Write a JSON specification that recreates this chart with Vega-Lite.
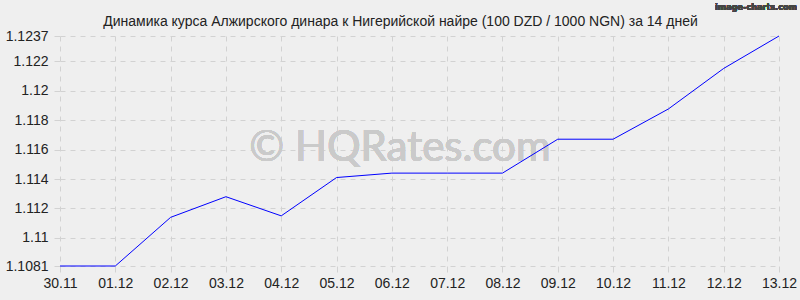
{
  "$schema": "https://vega.github.io/schema/vega-lite/v6.json",
  "width": 719,
  "height": 230,
  "autosize": {"type": "none"},
  "padding": {"left": 60, "top": 36, "right": 21, "bottom": 34},
  "background": "#efefef",
  "title": {
    "text": "Динамика курса Алжирского динара к Нигерийской найре (100 DZD / 1000 NGN) за 14 дней",
    "font": "Liberation Sans",
    "fontSize": 14,
    "fontWeight": "normal",
    "color": "#222222",
    "anchor": "middle",
    "frame": "group",
    "dx": -19,
    "dy": 35,
    "offset": 9
  },
  "config": {
    "view": {"stroke": null},
    "axis": {
      "labelFont": "Liberation Sans",
      "labelFontSize": 14,
      "labelColor": "#222222",
      "labelOverlap": false,
      "domain": false,
      "grid": true,
      "gridColor": "#d2d2d2",
      "gridDash": [5, 5],
      "gridWidth": 1,
      "tickColor": "#d2d2d2",
      "tickSize": 6,
      "title": null
    }
  },
  "data": {
    "values": [
      {"date": "30.11", "rate": 1.1081},
      {"date": "01.12", "rate": 1.1081},
      {"date": "02.12", "rate": 1.1114},
      {"date": "03.12", "rate": 1.1128},
      {"date": "04.12", "rate": 1.1115},
      {"date": "05.12", "rate": 1.1141},
      {"date": "06.12", "rate": 1.1144},
      {"date": "07.12", "rate": 1.1144},
      {"date": "08.12", "rate": 1.1144},
      {"date": "09.12", "rate": 1.1167},
      {"date": "10.12", "rate": 1.1167},
      {"date": "11.12", "rate": 1.11875},
      {"date": "12.12", "rate": 1.1215},
      {"date": "13.12", "rate": 1.1237}
    ]
  },
  "encoding": {
    "x": {
      "field": "date",
      "type": "ordinal",
      "sort": null,
      "scale": {
        "type": "point",
        "padding": 0,
        "domain": ["30.11", "01.12", "02.12", "03.12", "04.12", "05.12", "06.12", "07.12", "08.12", "09.12", "10.12", "11.12", "12.12", "13.12"]
      },
      "axis": {"labelAngle": 0, "labelPadding": 4, "labelOverlap": false}
    }
  },
  "layer": [
    {
      "mark": {"type": "text", "text": "© HQRates.com", "font": "Lato", "fontSize": 42, "color": "#cacaca", "align": "center", "baseline": "middle", "dx": 8},
      "encoding": {
        "x": {"datum": "06.12", "type": "ordinal"},
        "y": {"datum": 1.1161, "type": "quantitative"}
      }
    },
    {
      "mark": {"type": "line", "color": "#0000ff", "strokeWidth": 1, "clip": false},
      "encoding": {
        "y": {
          "field": "rate",
          "type": "quantitative",
          "scale": {"domain": [1.1081, 1.1237], "zero": false, "nice": false},
          "axis": {
            "values": [1.1081, 1.11, 1.112, 1.114, 1.116, 1.118, 1.12, 1.122, 1.1237],
            "tickCount": 20,
            "labelExpr": "'' + datum.value",
            "labelOverlap": false,
            "labelPadding": 6
          }
        }
      }
    },
    {
      "mark": {"type": "text", "text": "image-charts.com", "font": "DejaVu Sans Condensed", "fontSize": 9, "fontWeight": "bold", "color": "#444444", "align": "right", "baseline": "middle", "dx": 18},
      "encoding": {
        "x": {"datum": "13.12", "type": "ordinal"},
        "y": {"datum": 1.12565, "type": "quantitative"}
      }
    }
  ]
}
